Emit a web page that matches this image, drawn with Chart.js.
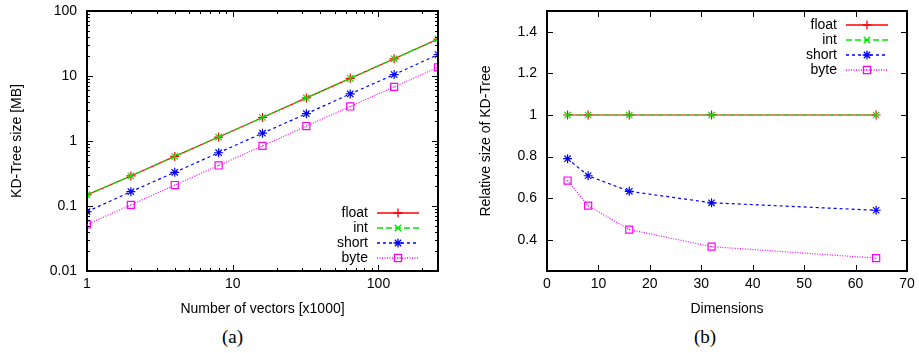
<!DOCTYPE html>
<html>
<head>
<meta charset="utf-8">
<script src="https://cdn.jsdelivr.net/npm/chart.js@4.4.1/dist/chart.umd.min.js"></script>
<style>
  body { margin:0; background:#fff; width:919px; height:353px; position:relative; overflow:hidden; }
  canvas { position:absolute; top:0; }
  #c1 { left:0; }
  #c2 { left:460px; }
  .cap { position:absolute; top:326px; font-family:"Liberation Serif", serif; font-size:19px; color:#000; }
</style>
</head>
<body>
<canvas id="c1" width="460" height="322"></canvas>
<canvas id="c2" width="459" height="322"></canvas>
<div class="cap" style="left:222px">(a)</div>
<div class="cap" style="left:694px">(b)</div>
<script>
// (a) tree size vs number of vectors
const vectors = [1, 2, 4, 8, 16, 32, 64, 128, 256]
const sizeFloat = [0.148, 0.29, 0.58, 1.15, 2.3, 4.6, 9.2, 18.4, 37]
const sizeInt = [0.148, 0.29, 0.58, 1.15, 2.3, 4.6, 9.2, 18.4, 37]
const sizeShort = [0.082, 0.166, 0.33, 0.66, 1.32, 2.63, 5.3, 10.5, 21.4]
const sizeByte = [0.052, 0.104, 0.21, 0.42, 0.84, 1.7, 3.4, 6.8, 13.6]
const ticksA_x = [1, 10, 100]
const ticksA_y = [0.01, 0.1, 1, 10, 100]

// (b) relative size vs dimensions
const dims = [4, 8, 16, 32, 64]
const relFloat = [1, 1, 1, 1, 1]
const relInt = [1, 1, 1, 1, 1]
const relShort = [0.79, 0.708, 0.633, 0.578, 0.542]
const relByte = [0.685, 0.564, 0.449, 0.367, 0.312]
const ticksB_x = [0, 10, 20, 30, 40, 50, 60, 70]
const ticksB_y = [0.4, 0.6, 0.8, 1, 1.2, 1.4]

const names = ['float', 'int', 'short', 'byte']
const colors = ['#ff0000', '#00e600', '#0000ff', '#ff00ff']
const dashes = [[], [6, 3], [3, 3], [1, 1.5]]
const shapes = ['cross', 'crossRot', 'star', 'rect']

const FONT = "'Liberation Sans', Arial, sans-serif"

function makeSets(xs, series) {
  return series.map((ys, i) => ({
    label: names[i],
    data: xs.map((x, j) => ({x: x, y: ys[j]})),
    borderColor: colors[i],
    backgroundColor: 'rgba(0,0,0,0)',
    borderWidth: 1.2,
    borderDash: dashes[i],
    pointStyle: shapes[i],
    pointRadius: shapes[i] == 'rect' ? 5 : 4.5,
    pointBorderColor: colors[i],
    pointBackgroundColor: 'rgba(0,0,0,0)',
    pointBorderWidth: 1.2,
    tension: 0,
    order: series.length - i   // later series drawn on top, like gnuplot
  }))
}

// inward ticks on all four sides + frame + legend inside the plot
const frameTicks = {
  id: 'frameTicks',
  afterDraw(chart) {
    const ctx = chart.ctx
    const a = chart.chartArea
    const sx = chart.scales.x, sy = chart.scales.y
    ctx.save()
    ctx.strokeStyle = '#000'
    ctx.lineWidth = 1
    const tickList = (scale) => {
      const out = []
      const major = scale.ticks.map(t => t.value)
      major.forEach(v => out.push([v, 6]))
      if (scale.type == 'logarithmic') {
        for (let d = 0; d < major.length; d++) {
          for (let m = 2; m < 10; m++) {
            const v = major[d] * m
            if (v <= scale.max) out.push([v, 3])
          }
        }
      }
      return out
    }
    ctx.beginPath()
    tickList(sx).forEach(([v, len]) => {
      const px = Math.round(sx.getPixelForValue(v)) + 0.5
      ctx.moveTo(px, a.bottom); ctx.lineTo(px, a.bottom - len)
      ctx.moveTo(px, a.top); ctx.lineTo(px, a.top + len)
    })
    tickList(sy).forEach(([v, len]) => {
      const py = Math.round(sy.getPixelForValue(v)) + 0.5
      ctx.moveTo(a.left, py); ctx.lineTo(a.left + len, py)
      ctx.moveTo(a.right, py); ctx.lineTo(a.right - len, py)
    })
    ctx.stroke()
    ctx.lineWidth = 2
    ctx.strokeRect(a.left, a.top, a.right - a.left, a.bottom - a.top)

    // center dots inside the byte squares
    chart.data.datasets.forEach((ds, i) => {
      if (ds.pointStyle != 'rect') return
      ctx.fillStyle = ds.borderColor
      chart.getDatasetMeta(i).data.forEach(pt => ctx.fillRect(pt.x - 0.5, pt.y - 0.5, 1, 1))
    })

    const lg = chart.options.plugins.innerLegend
    const textRight = a.right - 70
    let y0 = lg.bottom ? a.bottom - 13 - 15 * (chart.data.datasets.length - 1) : a.top + 14
    ctx.font = '14px ' + FONT
    ctx.textAlign = 'right'
    ctx.textBaseline = 'middle'
    chart.data.datasets.forEach((ds, i) => {
      const y = y0 + i * 15
      ctx.fillStyle = '#000'
      ctx.fillText(ds.label, textRight, y)
      ctx.strokeStyle = ds.borderColor
      ctx.lineWidth = 1.3
      ctx.setLineDash(ds.borderDash)
      ctx.beginPath()
      ctx.moveTo(textRight + 9, y); ctx.lineTo(textRight + 51, y)
      ctx.stroke()
      ctx.setLineDash([])
      ctx.fillStyle = 'rgba(0,0,0,0)'
      Chart.helpers.drawPoint(ctx, {pointStyle: ds.pointStyle, radius: ds.pointRadius, borderWidth: 1.2, rotation: 0}, textRight + 30, y)
      if (ds.pointStyle == 'rect') {
        ctx.fillStyle = ds.borderColor
        ctx.fillRect(textRight + 29.5, y - 0.5, 1, 1)
      }
    })
    ctx.restore()
  }
}

function axisTitle(text, pad) {
  return {display: true, text: text, color: '#000', font: {family: FONT, size: 14}, padding: pad}
}

const tickFont = {family: FONT, size: 14}

function noPadX(s) { s.height = 51; s.paddingLeft = 0; s.paddingRight = 0 }
function noPadY(s) { s.width = 87; s.paddingTop = 0; s.paddingBottom = 0 }

const chartA = new Chart(document.getElementById('c1'), {
  type: 'line',
  data: {datasets: makeSets(vectors, [sizeFloat, sizeInt, sizeShort, sizeByte])},
  options: {
    responsive: false,
    animation: false,
    layout: {padding: {top: 11, right: 22, left: 0, bottom: 0}},
    plugins: {legend: {display: false}, tooltip: {enabled: false}, innerLegend: {bottom: true}},
    scales: {
      x: {
        type: 'logarithmic', min: 1, max: 256,
        grid: {display: false, drawTicks: false}, border: {display: false},
        afterBuildTicks: (s) => { s.ticks = ticksA_x.map(v => ({value: v})) },
        afterFit: noPadX,
        ticks: {color: '#000', font: tickFont, padding: 5, maxRotation: 0, autoSkip: false, callback: (v) => String(v)},
        title: axisTitle('Number of vectors [x1000]', {top: 4, bottom: 4})
      },
      y: {
        type: 'logarithmic', min: 0.01, max: 100,
        grid: {display: false, drawTicks: false}, border: {display: false},
        afterBuildTicks: (s) => { s.ticks = ticksA_y.map(v => ({value: v})) },
        afterFit: noPadY,
        ticks: {color: '#000', font: tickFont, padding: 10, autoSkip: false, callback: (v) => String(v)},
        title: axisTitle('KD-Tree size [MB]', {top: 8.6, bottom: 0})
      }
    }
  },
  plugins: [frameTicks]
})

const chartB = new Chart(document.getElementById('c2'), {
  type: 'line',
  data: {datasets: makeSets(dims, [relFloat, relInt, relShort, relByte])},
  options: {
    responsive: false,
    animation: false,
    layout: {padding: {top: 11, right: 12, left: 0, bottom: 0}},
    plugins: {legend: {display: false}, tooltip: {enabled: false}, innerLegend: {bottom: false}},
    scales: {
      x: {
        type: 'linear', min: 0, max: 70,
        grid: {display: false, drawTicks: false}, border: {display: false},
        afterBuildTicks: (s) => { s.ticks = ticksB_x.map(v => ({value: v})) },
        afterFit: noPadX,
        ticks: {color: '#000', font: tickFont, padding: 5, maxRotation: 0, autoSkip: false},
        title: axisTitle('Dimensions', {top: 4, bottom: 4})
      },
      y: {
        type: 'linear', min: 0.25, max: 1.5,
        grid: {display: false, drawTicks: false}, border: {display: false},
        afterBuildTicks: (s) => { s.ticks = ticksB_y.map(v => ({value: v})) },
        afterFit: noPadY,
        ticks: {color: '#000', font: tickFont, padding: 10, autoSkip: false, callback: (v) => String(Math.round(v * 10) / 10)},
        title: axisTitle('Relative size of KD-Tree', {top: 17.6, bottom: 0})
      }
    }
  },
  plugins: [frameTicks]
})
</script>
</body>
</html>
